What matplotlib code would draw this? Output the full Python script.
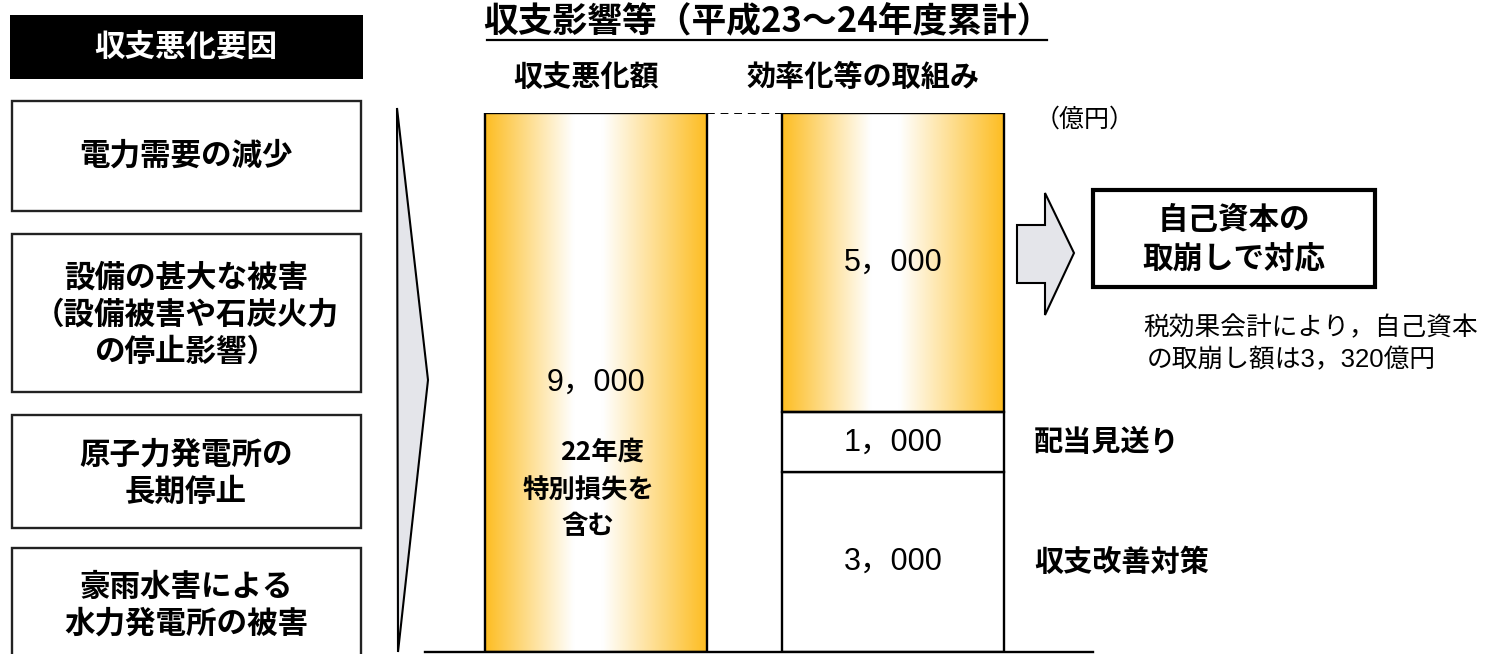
import matplotlib
matplotlib.use("Agg")
import matplotlib.pyplot as plt
import numpy as np
from matplotlib.colors import LinearSegmentedColormap
from matplotlib.patches import Rectangle, Polygon

plt.rcParams['font.family'] = ['Noto Sans CJK JP', 'DejaVu Sans']
NUM_FONT = ['Liberation Sans', 'Noto Sans CJK JP']

W, H = 1490, 654

# amounts in 億円
bar_names = ["収支悪化額", "効率化等の取組み"]
deficit = 9000
deficit_text = "9，000"
deficit_note = ["22年度", "特別損失を", "含む"]
measure_values = [3000, 1000, 5000]          # stacked bottom -> top
measure_texts = ["3，000", "1，000", "5，000"]
measure_labels = ["収支改善対策", "配当見送り", None]
factors = ["電力需要の減少",
           "設備の甚大な被害\n（設備被害や石炭火力\nの停止影響）",
           "原子力発電所の\n長期停止",
           "豪雨水害による\n水力発電所の被害"]

title = "収支影響等（平成23～24年度累計）"
factor_title = "収支悪化要因"
unit = "（億円）"
equity_box = "自己資本の\n取崩しで対応"
equity_note = ["税効果会計により，自己資本", "の取崩し額は3，320億円"]

cmap = LinearSegmentedColormap.from_list(
    "bar_grad", [(0.0, "#FDBD22"), (0.40, "#FFFFFF"), (0.53, "#FFFFFF"), (1.0, "#FDBD22")])


def grad_fill(ax, patch):
    x0, y0 = patch.get_x(), patch.get_y()
    w, h = patch.get_width(), patch.get_height()
    im = ax.imshow(np.linspace(0, 1, 256)[None, :], cmap=cmap, aspect="auto",
                   extent=(x0, x0 + w, y0, y0 + h), zorder=1, interpolation="bicubic")
    im.set_clip_path(patch)


fig = plt.figure(figsize=(W / 100, H / 100), dpi=100)

# bar area: baseline at y=652px, 9000 reaches y=113px
ax = fig.add_axes([425 / W, 2 / H, (1093 - 425) / W, 539 / H])
bw = 222 / 297
xlim = ((425 - 596) / 297, (1093 - 596) / 297)

b1 = ax.bar(0, deficit, width=bw, facecolor="none", edgecolor="black", lw=1.7, zorder=2)[0]
grad_fill(ax, b1)

bottom = 0
for i, (v, t, lab) in enumerate(zip(measure_values, measure_texts, measure_labels)):
    p = ax.bar(1, v, width=bw, bottom=bottom, facecolor="none" if i == 2 else "white",
               edgecolor="black", lw=1.7, zorder=2)[0]
    if i == 2:
        grad_fill(ax, p)
    ax.text(1, bottom + v / 2, t, ha="center", va="center", fontsize=22,
            family=NUM_FONT, zorder=3)
    if lab:
        ax.text(1 + bw / 2 + 30 / 297, bottom + v / 2, lab, ha="left", va="center",
                fontsize=21, fontweight="bold")
    bottom += v

ax.plot([bw / 2, 1 - bw / 2], [deficit, deficit], color="black", lw=1.4,
        ls=(0, (4, 3)), zorder=2)
ax.text(0, deficit / 2, deficit_text, ha="center", va="center", fontsize=22,
        family=NUM_FONT, zorder=3)

ax.set_xlim(*xlim)
ax.set_ylim(0, deficit)
for s in ["top", "left", "right"]:
    ax.spines[s].set_visible(False)
ax.spines["bottom"].set_linewidth(1.7)
ax.set_xticks([])
ax.set_yticks([])
ax.patch.set_alpha(0)

# annotation layer in pixel coordinates
ov = fig.add_axes([0, 0, 1, 1])
ov.set_xlim(0, W)
ov.set_ylim(H, 0)
ov.axis("off")
ov.patch.set_alpha(0)

for (nx, ny), line in zip([(602, 452), (588, 491), (588, 527)], deficit_note):
    ov.text(nx, ny, line, ha="center", va="center", fontsize=19, fontweight="bold")

ov.text(767, 22, title, ha="center", va="center", fontsize=25, fontweight="bold")
ov.plot([487, 1047], [40, 40], color="black", lw=1.6)
ov.text(586, 77, bar_names[0], ha="center", va="center", fontsize=21, fontweight="bold")
ov.text(863, 77, bar_names[1], ha="center", va="center", fontsize=21, fontweight="bold")
ov.text(1035, 120, unit, ha="left", va="center", fontsize=18)

# left column: causes
ov.add_patch(Rectangle((10, 15), 353, 64, facecolor="black", edgecolor="none"))
ov.text(186, 47, factor_title, color="white", ha="center", va="center",
        fontsize=22, fontweight="bold")
box_spans = [(101, 211), (234, 392), (415, 528), (548, 690)]
text_y = [156, 315, 473, 605]
for (top, bot), ty, f in zip(box_spans, text_y, factors):
    ov.add_patch(Rectangle((12, top), 349, bot - top, facecolor="white",
                           edgecolor="#222222", lw=1.7))
    ov.text(186, ty, f, ha="center", va="center", fontsize=22, fontweight="bold",
            linespacing=1.2)

# chevron pointing at the bars
ov.add_patch(Polygon([(397, 108), (428, 380), (398, 652)], closed=True,
                     facecolor="#E4E5EA", edgecolor="black", lw=1.5))

# block arrow to equity box
ov.add_patch(Polygon([(1017, 225), (1045, 225), (1045, 193), (1074, 253),
                      (1045, 315), (1045, 283), (1017, 283)], closed=True,
                     facecolor="#E4E5EA", edgecolor="black", lw=1.5))
ov.add_patch(Rectangle((1093, 190), 282, 97, facecolor="white", edgecolor="black", lw=3))
ov.text(1234, 240, equity_box, ha="center", va="center", fontsize=22,
        fontweight="bold", linespacing=1.3)
ov.text(1143, 328, equity_note[0], ha="left", va="center", fontsize=18.5, family=NUM_FONT[::-1])
ov.text(1147, 360, equity_note[1], ha="left", va="center", fontsize=18.5, family=NUM_FONT)

fig.savefig("out.png", dpi=100)
